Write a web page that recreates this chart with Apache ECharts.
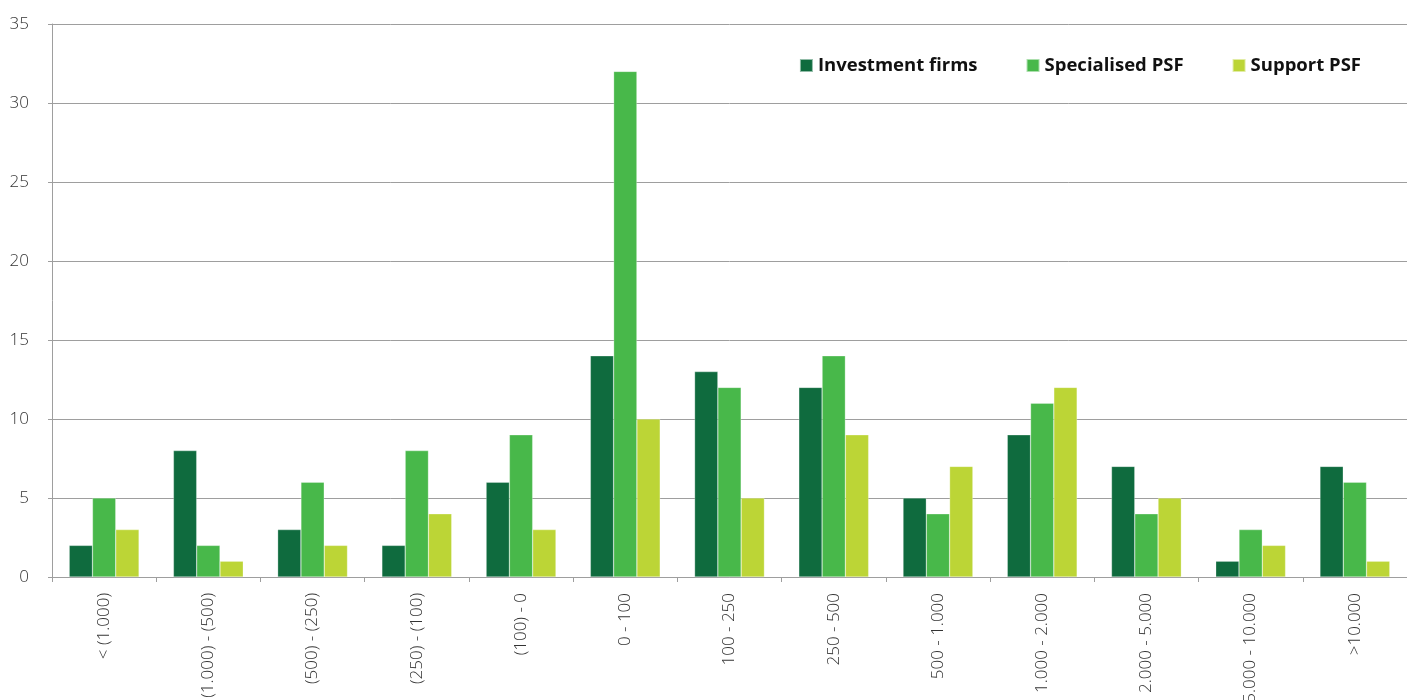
<!DOCTYPE html>
<html>
<head>
<meta charset="utf-8">
<script src="https://cdn.jsdelivr.net/npm/echarts@6/dist/echarts.min.js"></script>
<style>
  html, body { margin: 0; padding: 0; background: #fff; }
  #chart { width: 1407px; height: 700px; }
</style>
</head>
<body>
<div id="chart"></div>
<script>
// Net result brackets (thousand EUR)
const categories = [
  '< (1.000)', '(1.000) - (500)', '(500) - (250)', '(250) - (100)', '(100) - 0',
  '0 - 100', '100 - 250', '250 - 500', '500 - 1.000', '1.000 - 2.000',
  '2.000 - 5.000', '5.000 - 10.000', '>10.000'
];
const investmentFirms = [2, 8, 3, 2, 6, 14, 13, 12, 5, 9, 7, 1, 7];
const specialisedPSF  = [5, 2, 6, 8, 9, 32, 12, 14, 4, 11, 4, 3, 6];
const supportPSF      = [3, 1, 2, 4, 3, 10, 5, 9, 7, 12, 5, 2, 1];
const seriesNames = ['Investment firms', 'Specialised PSF', 'Support PSF'];
const seriesColors = ['#0f6b3e', '#48b84a', '#bcd536'];

const axisGray = '#9e9e9e';
const chart = echarts.init(document.getElementById('chart'));

function barSeries(name, data, color) {
  return {
    name: name,
    type: 'bar',
    data: data,
    barGap: '0%',
    barCategoryGap: '33%',
    itemStyle: { color: color, borderColor: 'rgba(255,255,255,0.55)', borderWidth: 0.5 }
  };
}

chart.setOption({
  animation: false,
  color: seriesColors,
  textStyle: { fontFamily: '"Open Sans", sans-serif' },
  legend: {
    top: 51,
    right: 41,
    itemWidth: 13,
    itemHeight: 13,
    itemGap: 48,
    icon: 'rect',
    textStyle: { fontSize: 18.5, fontWeight: 'bold', color: '#111', fontFamily: '"Open Sans", sans-serif' },
    data: seriesNames
  },
  // Fixed plot area; the long rotated labels are allowed to run off the bottom edge
  grid: { left: 52, right: 0, top: 24, bottom: 123, containLabel: false, outerBoundsMode: 'none' },
  xAxis: {
    type: 'category',
    data: categories,
    axisLine: { show: true, lineStyle: { color: axisGray, width: 1 } },
    axisTick: { show: true, length: 5, lineStyle: { color: axisGray } },
    axisLabel: { rotate: 90, margin: 16, fontSize: 17, fontWeight: 300, color: '#333', fontFamily: '"Open Sans", sans-serif' }
  },
  yAxis: {
    type: 'value',
    min: 0,
    max: 35,
    interval: 5,
    axisLine: { show: true, lineStyle: { color: axisGray, width: 1 } },
    axisTick: { show: true, length: 4, lineStyle: { color: axisGray } },
    axisLabel: { margin: 23, fontSize: 17, fontWeight: 300, color: '#333', fontFamily: '"Open Sans", sans-serif' },
    splitLine: { show: true, lineStyle: { color: axisGray, width: 1 } }
  },
  series: [
    barSeries(seriesNames[0], investmentFirms, seriesColors[0]),
    barSeries(seriesNames[1], specialisedPSF, seriesColors[1]),
    barSeries(seriesNames[2], supportPSF, seriesColors[2])
  ]
});
</script>
</body>
</html>
